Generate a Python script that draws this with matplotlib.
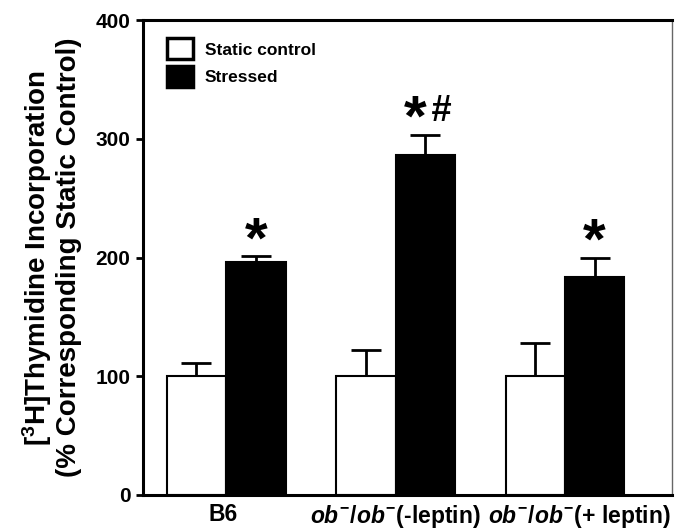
import matplotlib
matplotlib.use("Agg")
import matplotlib.pyplot as plt
from matplotlib.patches import Patch
from matplotlib.transforms import ScaledTranslation
import numpy as np

plt.rcParams['font.family'] = ['Liberation Sans', 'DejaVu Sans']
plt.rcParams['font.weight'] = 'bold'
plt.rcParams['mathtext.fontset'] = 'custom'
plt.rcParams['mathtext.rm'] = 'Liberation Sans:bold'
plt.rcParams['mathtext.it'] = 'Liberation Sans:italic:bold'
plt.rcParams['mathtext.bf'] = 'Liberation Sans:bold'

groups = ["B6", "$ob^{-}$/$ob^{-}$(-leptin)", "$ob^{-}$/$ob^{-}$(+ leptin)"]
static_vals = [100, 100, 100]
static_err = [11, 22, 28]
stressed_vals = [196, 286, 184]
stressed_err = [5, 17, 16]
marks = ["*", "*", "*"]
hash_marks = ["", "#", ""]


def main():
    fig = plt.figure(figsize=(6.76, 5.29), dpi=100)
    ax = fig.add_axes([0.2115, 0.0643, 0.7825, 0.8977])

    x = np.arange(len(groups))
    w = 0.351
    ax.bar(x - w / 2, static_vals, w, color="white", edgecolor="black", linewidth=1.5, zorder=2)
    ax.bar(x + w / 2, stressed_vals, w, color="black", edgecolor="black", linewidth=1.5, zorder=2)
    zeros = [0] * len(groups)
    ax.errorbar(x - w / 2, static_vals, yerr=[zeros, static_err], fmt="none",
                ecolor="black", elinewidth=2, capsize=10.5, capthick=2, zorder=1)
    ax.errorbar(x + w / 2, stressed_vals, yerr=[zeros, stressed_err], fmt="none",
                ecolor="black", elinewidth=2, capsize=10.5, capthick=2, zorder=1)

    # significance marks above the stressed bars
    for i in range(len(groups)):
        top = stressed_vals[i] + stressed_err[i]
        if hash_marks[i]:
            ax.text(x[i] + w / 2 - 0.06, top - 10.5, marks[i], ha="center", va="bottom",
                    fontsize=42, fontweight="bold")
            ax.text(x[i] + w / 2 + 0.09, top + 5, hash_marks[i], ha="center", va="bottom",
                    fontsize=26, fontweight="bold", style="italic")
        else:
            ax.text(x[i] + w / 2, top - 11, marks[i], ha="center", va="bottom",
                    fontsize=42, fontweight="bold")

    ax.set_xlim(-0.49, 2.631)
    ax.set_ylim(0, 400)
    ax.set_yticks([0, 100, 200, 300, 400])
    ax.set_xticks(x)
    ax.set_xticklabels(groups, fontsize=16.5, fontweight="bold")
    ax.tick_params(axis="x", length=0, pad=6)
    ax.tick_params(axis="y", direction="out", length=5, width=2, labelsize=15, pad=4)

    # nudge the last group label right so it does not run into the middle one
    lbls = ax.get_xticklabels()
    lbls[0].set_transform(lbls[0].get_transform() + ScaledTranslation(-3 / 100, 0, fig.dpi_scale_trans))
    lbls[2].set_transform(lbls[2].get_transform() + ScaledTranslation(14 / 100, 0, fig.dpi_scale_trans))

    for s in ["left", "top", "bottom"]:
        ax.spines[s].set_linewidth(2.2)
    ax.spines["right"].set_linewidth(1)
    ax.spines["right"].set_color("#666666")

    ax.set_ylabel("[$^{3}$H]Thymidine Incorporation\n(% Corresponding Static Control)",
                  fontsize=20, fontweight="bold", labelpad=10, linespacing=1.1)

    handles = [Patch(facecolor="white", edgecolor="black", linewidth=2.5),
               Patch(facecolor="black", edgecolor="black", linewidth=2.5)]
    ax.legend(handles, ["Static control", "Stressed"], loc="upper left", frameon=False,
              fontsize=12.5, handlelength=1.5, handleheight=1.45, handletextpad=0.7,
              labelspacing=0.4, bbox_to_anchor=(0.032, 0.976), borderaxespad=0)

    fig.savefig("out.png", dpi=100)


if __name__ == "__main__":
    main()
